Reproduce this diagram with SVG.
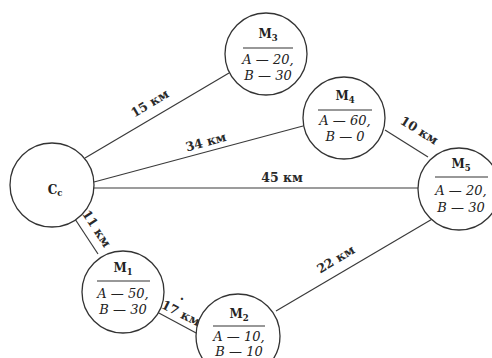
<svg xmlns="http://www.w3.org/2000/svg" width="492" height="358" viewBox="0 0 492 358">
<style>
.edge{stroke:#3a3a3a;stroke-width:1.2;fill:none}
.node{fill:#fff;stroke:#333;stroke-width:1.3}
.sep{stroke:#333;stroke-width:1.2}
.t{font-family:"DejaVu Serif","Liberation Serif",serif;font-size:12px;font-weight:bold;fill:#222;text-anchor:middle}
.r{font-family:"DejaVu Serif","Liberation Serif",serif;font-size:13px;font-style:italic;fill:#222;text-anchor:middle}
.lbl{font-family:"DejaVu Serif","Liberation Serif",serif;font-size:12.5px;font-weight:bold;fill:#2a2a2a;text-anchor:middle}
.sub{font-size:8.5px}
</style>
<rect width="492" height="358" fill="#fff"/>
<g id="connectors">
<line class="edge" x1="85" y1="158" x2="229" y2="73"/>
<line class="edge" x1="94" y1="182" x2="303" y2="126"/>
<line class="edge" x1="93" y1="188" x2="418" y2="188"/>
<line class="edge" x1="75" y1="219" x2="98" y2="254"/>
<line class="edge" x1="157" y1="312" x2="198" y2="334"/>
<line class="edge" x1="276" y1="311" x2="434" y2="218"/>
<line class="edge" x1="385" y1="130" x2="428" y2="157"/>
<text class="lbl" transform="translate(152,107) rotate(-31)">15 км</text>
<text class="lbl" transform="translate(207,146) rotate(-15)">34 км</text>
<text class="lbl" transform="translate(282,182)">45 км</text>
<text class="lbl" transform="translate(417,134) rotate(32)">10 км</text>
<text class="lbl" transform="translate(93,231) rotate(57)">11 км</text>
<text class="lbl" transform="translate(179,317) rotate(27)">17 км</text>
<text class="lbl" transform="translate(182,303)">·</text>
<text class="lbl" transform="translate(338,263) rotate(-31)">22 км</text>
</g>
<g id="Cc">
<circle class="node" cx="52" cy="185" r="42"/>
<text class="t" x="55" y="194">С<tspan class="sub" dy="2">с</tspan></text>
</g>
<g id="M3">
<circle class="node" cx="266" cy="54" r="41"/>
<text class="t" x="268" y="38">М<tspan class="sub" dy="3">3</tspan></text>
<line class="sep" x1="243" y1="48" x2="293" y2="48"/>
<text class="r" x="268" y="64">A — 20,</text>
<text class="r" x="268" y="80">B — 30</text>
</g>
<g id="M4">
<circle class="node" cx="344" cy="118" r="41"/>
<text class="t" x="345" y="100">М<tspan class="sub" dy="3">4</tspan></text>
<line class="sep" x1="318" y1="110" x2="372" y2="110"/>
<text class="r" x="345" y="125">A — 60,</text>
<text class="r" x="345" y="141">B — 0</text>
</g>
<g id="M5">
<circle class="node" cx="459" cy="189" r="41"/>
<text class="t" x="461" y="168">М<tspan class="sub" dy="3">5</tspan></text>
<line class="sep" x1="435" y1="177" x2="488" y2="177"/>
<text class="r" x="461" y="195">A — 20,</text>
<text class="r" x="461" y="212">B — 30</text>
</g>
<g id="M1">
<circle class="node" cx="123" cy="292" r="41"/>
<text class="t" x="123" y="272">М<tspan class="sub" dy="3">1</tspan></text>
<line class="sep" x1="97" y1="281" x2="150" y2="281"/>
<text class="r" x="123" y="298">A — 50,</text>
<text class="r" x="123" y="314">B — 30</text>
</g>
<g id="M2">
<circle class="node" cx="238" cy="336" r="42"/>
<text class="t" x="239" y="318">М<tspan class="sub" dy="3">2</tspan></text>
<line class="sep" x1="213" y1="326" x2="265" y2="326"/>
<text class="r" x="239" y="341">A — 10,</text>
<text class="r" x="239" y="356">B — 10</text>
</g>
</svg>
